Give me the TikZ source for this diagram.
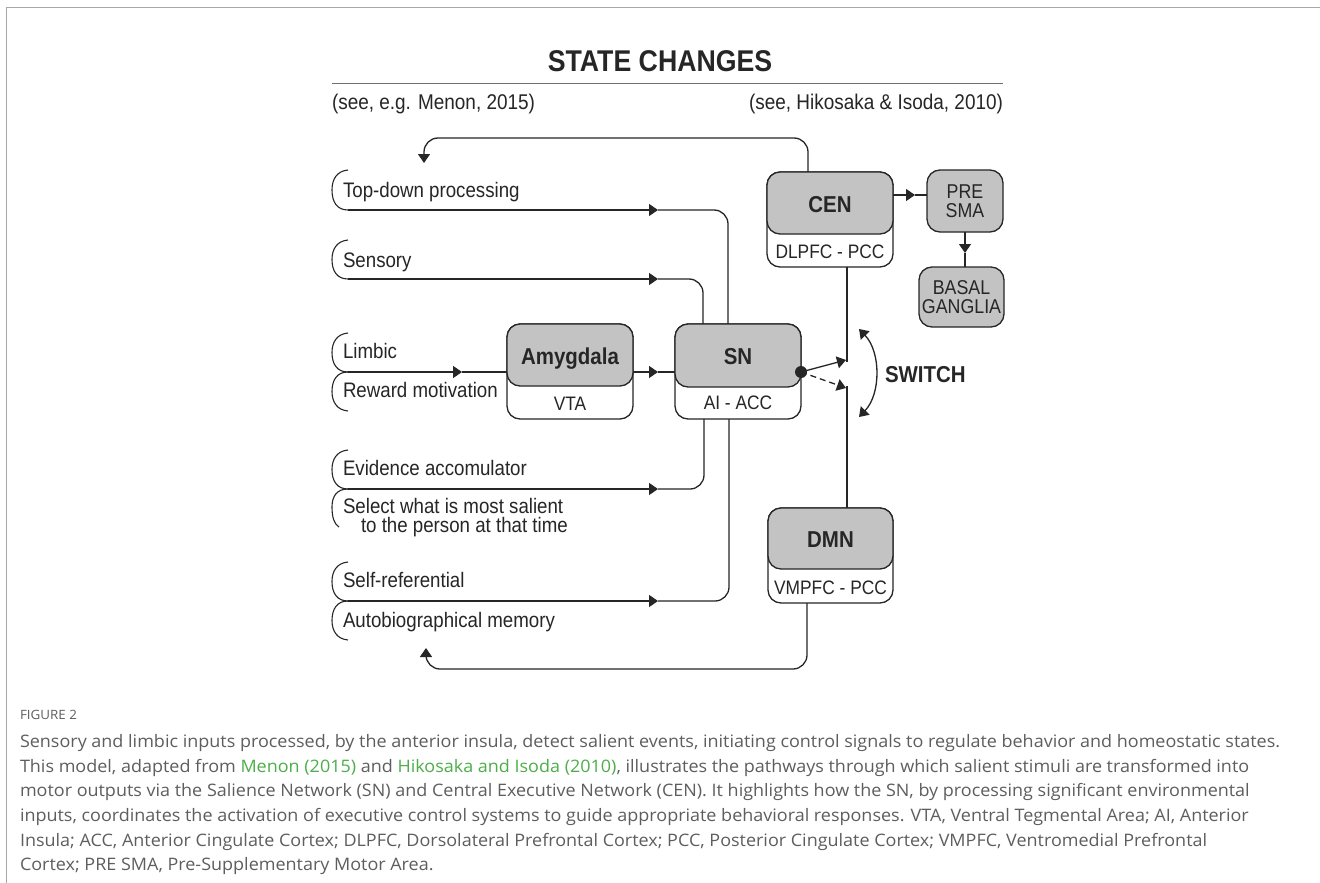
\documentclass[tikz,border=0pt]{standalone}
\usepackage{fontspec}
\setmainfont{Liberation Sans}[FakeStretch=0.89]
\newfontfamily\capfont{Open Sans}[FakeStretch=1.045]
\usetikzlibrary{arrows.meta,calc}
\definecolor{ln}{HTML}{262626}
\definecolor{boxgray}{HTML}{C3C3C3}
\definecolor{capgray}{HTML}{5E5E5E}
\definecolor{linkgreen}{HTML}{4DAE4A}
\definecolor{framegray}{HTML}{A8A8A8}
\definecolor{rulegray}{HTML}{6E6E6E}
\begin{document}
\begin{tikzpicture}[x=1pt,y=-1pt,
  every node/.style={inner sep=0pt, outer sep=0pt, text=ln},
  conn/.style={draw=ln, line width=1.3pt},
  tip/.style={-{Triangle[length=9pt,width=12pt]}},
  rc/.style={rounded corners=14pt},
  graybox/.style={draw=ln, fill=boxgray, rounded corners=13pt, line width=1.3pt},
  outerbox/.style={draw=ln, fill=white, rounded corners=13pt, line width=1.3pt},
  lbl/.style={font=\fontsize{21}{19}\selectfont, anchor=base west, align=left},
  boxtitle/.style={font=\fontsize{23}{23}\selectfont\bfseries, anchor=base},
  boxsub/.style={font=\fontsize{19.5}{19.5}\selectfont, anchor=base},
  smalltxt/.style={font=\fontsize{20}{19.5}\selectfont, align=center},
  brk/.style={draw=ln, line width=1.1pt},
  captxt/.style={font=\capfont\fontsize{17.2}{20}\selectfont, text=capgray, anchor=base west}
]
\useasboundingbox (0,0) rectangle (1320,883);
\fill[white] (0,0) rectangle (1320,883);
% frame
\draw[framegray, line width=1.2pt] (6.5,883) -- (6.5,7.5) -- (1320,7.5);

% title and references
\node[font=\fontsize{30}{30}\selectfont\bfseries, anchor=base] (title) at (660,71) {STATE CHANGES};
\draw[rulegray, line width=1pt] (332,84) -- (1003,84);
\node[font=\fontsize{21.3}{21}\selectfont, anchor=base west] (refL) at (332,110) {(see, e.g. Menon, 2015)};
\node[font=\fontsize{21.3}{21}\selectfont, anchor=base east] (refR) at (1003,110) {(see, Hikosaka \& Isoda, 2010)};

% boxes
\node[outerbox, minimum width=126pt, minimum height=95pt, anchor=north] (cenO) at (830,172) {};
\node[graybox, minimum width=126pt, minimum height=62pt, anchor=north] (cen) at (830,172) {};
\node[boxtitle] (cenT) at (830,212) {CEN};
\node[boxsub] (cenS) at (830,258) {DLPFC - PCC};

\node[outerbox, minimum width=126pt, minimum height=95pt, anchor=north] (snO) at (738,324) {};
\node[graybox, minimum width=126pt, minimum height=63pt, anchor=north] (sn) at (738,324) {};
\node[boxtitle] (snT) at (738,364) {SN};
\node[boxsub] (snS) at (738,409) {AI - ACC};

\node[outerbox, minimum width=126pt, minimum height=95pt, anchor=north] (amyO) at (570,324) {};
\node[graybox, minimum width=126pt, minimum height=62pt, anchor=north] (amy) at (570,324) {};
\node[boxtitle] (amyT) at (570,364) {Amygdala};
\node[boxsub] (amyS) at (570,410) {VTA};

\node[outerbox, minimum width=125pt, minimum height=95pt, anchor=north] (dmnO) at (830.5,508) {};
\node[graybox, minimum width=125pt, minimum height=61pt, anchor=north] (dmn) at (830.5,508) {};
\node[boxtitle] (dmnT) at (830.5,547) {DMN};
\node[boxsub] (dmnS) at (830.5,594) {VMPFC - PCC};

\node[graybox, minimum width=76pt, minimum height=62pt, anchor=north, smalltxt] (pre) at (965,170) {PRE\\SMA};
\node[graybox, minimum width=85pt, minimum height=60pt, anchor=north, smalltxt] (bg) at (961.5,267) {BASAL\\GANGLIA};

% input labels
\node[lbl] (td) at (343,197) {Top-down processing};
\node[lbl] (sens) at (343,267) {Sensory};
\node[lbl] (limb) at (343,358) {Limbic};
\node[lbl] (rew) at (343,397) {Reward motivation};
\node[lbl] (evid) at (343,475) {Evidence accomulator};
\node[lbl] (sel) at (343,532) {Select what is most salient\\\hspace*{18pt}to the person at that time};
\node[lbl] (selfr) at (343,587) {Self-referential};
\node[lbl] (auto) at (343,627) {Autobiographical memory};

% brackets (upper type: free end on top)
\draw[brk] (348,170) .. controls (337,171) and (332,179) .. (332,190) .. controls (332,202) and (337,210) .. (348,210);
\draw[brk] (348,240) .. controls (337,241) and (332,249) .. (332,259.5) .. controls (332,271) and (337,279) .. (348,279);
\draw[brk] (348,333) .. controls (337,334) and (332,342) .. (332,352.5) .. controls (332,364) and (337,372) .. (348,372);
\draw[brk] (348,450) .. controls (337,451) and (332,459) .. (332,469.5) .. controls (332,481) and (337,489) .. (348,489);
\draw[brk] (348,562) .. controls (337,563) and (332,571) .. (332,581.5) .. controls (332,593) and (337,601) .. (348,601);
% brackets (lower type: free end at bottom)
\draw[brk] (348,372) .. controls (337,372) and (332,380) .. (332,391.5) .. controls (332,402) and (337,410) .. (348,411);
\draw[brk] (348,489) .. controls (337,489) and (332,496) .. (332,507) .. controls (332,517) and (334,524) .. (339,527);
\draw[brk] (348,601) .. controls (337,601) and (332,609) .. (332,620.5) .. controls (332,631) and (337,639) .. (348,640);

% connector coordinates
\coordinate (tdS) at (348,210);  \coordinate (tdA) at (658,210);
\coordinate (seS) at (348,279);  \coordinate (seA) at (658,279);
\coordinate (liS) at (348,372);  \coordinate (liA) at (462,372);
\coordinate (evS) at (348,489);  \coordinate (evA) at (658,489);
\coordinate (sfS) at (348,601);  \coordinate (sfA) at (658,601);
\coordinate (amA) at (658,372);
\coordinate (fbTop) at (424,138); \coordinate (fbTopTip) at (424,163);
\coordinate (fbBot) at (426,669); \coordinate (fbBotTip) at (426,648);
\coordinate (ceA) at (915,195);
\coordinate (prA) at (965,253);
\coordinate (swA) at (846,360);
\coordinate (swB) at (846,388);
\coordinate (swEndA) at (847,362);
\coordinate (swEndB) at (847,386);

% inputs to SN
\draw[conn,tip] (tdS) -- (tdA);
\draw[conn,rc] (tdA) -| ($(snO.north west)+(53,0)$);
\draw[conn,tip] (seS) -- (seA);
\draw[conn,rc] (seA) -| ($(snO.north west)+(28,0)$);
\draw[conn,tip] (liS) -- (liA);
\draw[conn] (liA) -- ($(amyO.north west)+(0,48)$);
\draw[conn,tip] ($(amyO.north east)+(0,48)$) -- (amA);
\draw[conn] (amA) -- ($(snO.north west)+(0,48)$);
\draw[conn,tip] (evS) -- (evA);
\draw[conn,rc] (evA) -| ($(snO.south west)+(29,0)$);
\draw[conn,tip] (sfS) -- (sfA);
\draw[conn,rc] (sfA) -| ($(snO.south west)+(54,0)$);

% feedback loops
\draw[conn,rc,tip] ($(cen.north west)+(41,0)$) |- (fbTop) -- (fbTopTip);
\draw[conn,rc,tip] ($(dmnO.south west)+(39,0)$) |- (fbBot) -- (fbBotTip);

% CEN -> PRE SMA -> BASAL GANGLIA
\draw[conn,tip] ($(cen.north east)+(0,23)$) -- (ceA);
\draw[conn] (ceA) -- (ceA -| pre.west);
\draw[conn,tip] (pre.south) -- (prA);
\draw[conn] (prA) -- (prA |- bg.north);

% switch
\draw[conn] ($(cenO.south west)+(80,0)$) -- (swEndA);
\draw[conn] ($(dmn.north west)+(79,0)$) -- (swEndB);
\node[circle, fill=ln, minimum size=12pt] (dot) at ($(sn.north east)+(0,48)$) {};
\draw[conn,tip] (dot.center) -- (swA);
\draw[conn,tip,dashed,dash pattern=on 6pt off 4pt] (dot.center) -- (swB);
\coordinate (arcT) at (859,329);
\coordinate (arcB) at (859,417);
\draw[conn,{Triangle[length=9pt,width=12pt]}-{Triangle[length=9pt,width=12pt]}] (arcT) .. controls (881,352) and (881,394) .. (arcB);
\node[font=\fontsize{23}{23}\selectfont\bfseries, anchor=base west] (switch) at (885,382) {SWITCH};

% caption
\node[font=\capfont\fontsize{12.8}{14}\selectfont, text=capgray, anchor=base west] (fig) at (20,719) {FIGURE 2};
\node[captxt] (c1) at (20,747) {Sensory and limbic inputs processed, by the anterior insula, detect salient events, initiating control signals to regulate behavior and homeostatic states.};
\node[captxt] (c2) at (20,772) {This model, adapted from \textcolor{linkgreen}{Menon (2015)} and \textcolor{linkgreen}{Hikosaka and Isoda (2010)}, illustrates the pathways through which salient stimuli are transformed into};
\node[captxt] (c3) at (20,796) {motor outputs via the Salience Network (SN) and Central Executive Network (CEN). It highlights how the SN, by processing significant environmental};
\node[captxt] (c4) at (20,821) {inputs, coordinates the activation of executive control systems to guide appropriate behavioral responses. VTA, Ventral Tegmental Area; AI, Anterior};
\node[captxt] (c5) at (20,846) {Insula; ACC, Anterior Cingulate Cortex; DLPFC, Dorsolateral Prefrontal Cortex; PCC, Posterior Cingulate Cortex; VMPFC, Ventromedial Prefrontal};
\node[captxt] (c6) at (20,870) {Cortex; PRE SMA, Pre-Supplementary Motor Area.};
\end{tikzpicture}
\end{document}
